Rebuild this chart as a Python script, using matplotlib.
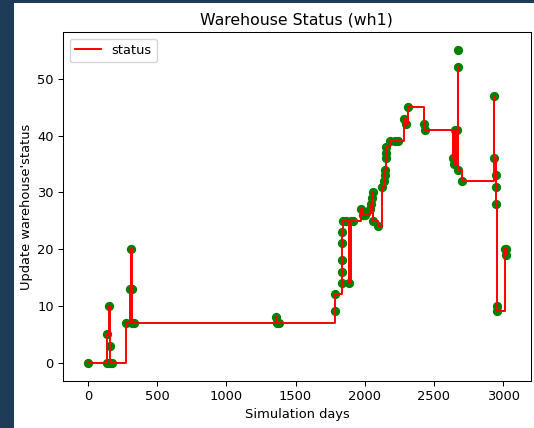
import matplotlib
matplotlib.use("Agg")
import matplotlib.pyplot as plt
from matplotlib.patches import Rectangle

# Simulation day of each warehouse status update and the status value
days = [0, 135, 140, 150, 157, 163, 172,
        278, 305, 312, 318, 322, 335,
        1360, 1368, 1378,
        1785, 1787, 1838, 1838, 1838, 1838, 1838, 1840, 1865, 1885, 1900, 1915,
        1975, 1985, 2002, 2040, 2048, 2052, 2058, 2062, 2095,
        2125, 2140, 2145, 2148, 2150, 2153, 2155, 2182, 2218, 2240,
        2285, 2300, 2312, 2425, 2432,
        2635, 2652, 2648, 2664, 2676, 2676, 2700,
        2936, 2936, 2948, 2948, 2948, 2952, 2955, 3013, 3018, 3022]
status = [0, 0, 5, 10, 3, 0, 0,
          7, 13, 20, 13, 7, 7,
          8, 7, 7,
          9, 12, 14, 16, 18, 21, 23, 25, 25, 14, 25, 25,
          27, 26, 26, 27, 28, 29, 30, 25, 24,
          31, 32, 33, 34, 36, 37, 38, 39, 39, 39,
          43, 42, 45, 42, 41,
          36, 41, 35, 41, 52, 34, 32,
          47, 36, 33, 31, 28, 10, 9, 20, 20, 19]
# updates shown as points only
extra_days = [2676]
extra_status = [55]

W, H = 534, 428
fig = plt.figure(figsize=(W / 100, H / 100), dpi=100)
fig.patch.set_facecolor("#1e3b58")
fig.add_artist(Rectangle((14 / W, 0), 1 - 14 / W, 1 - 2.7 / H,
                         transform=fig.transFigure, facecolor="white",
                         edgecolor="none", zorder=-10))

ax = fig.add_axes([63.3 / W, 1 - 380.7 / H, (530.5 - 63.3) / W, (380.7 - 32.3) / H])
fs = 9.4
ax.plot(days, status, drawstyle="steps-post", color="red", lw=1.4, label="status", zorder=3)
ax.scatter(days + extra_days, status + extra_status, color="green", s=32, zorder=2)

ax.set_xlim(-177, 3197)
ax.set_ylim(-3.2, 58.2)
ax.set_xticks([0, 500, 1000, 1500, 2000, 2500, 3000])
ax.set_yticks([0, 10, 20, 30, 40, 50])
ax.tick_params(labelsize=fs, length=3.3, width=0.75)
for s in ax.spines.values():
    s.set_linewidth(0.75)

ax.set_title("Warehouse Status (wh1)", fontsize=11.3, pad=5.6)
ax.set_xlabel("Simulation days", fontsize=fs, labelpad=3.3)
ax.set_ylabel("Update warehouse'status", fontsize=fs, labelpad=3.3)
ax.legend(loc="upper left", fontsize=fs)

fig.savefig("out.png", dpi=100)
